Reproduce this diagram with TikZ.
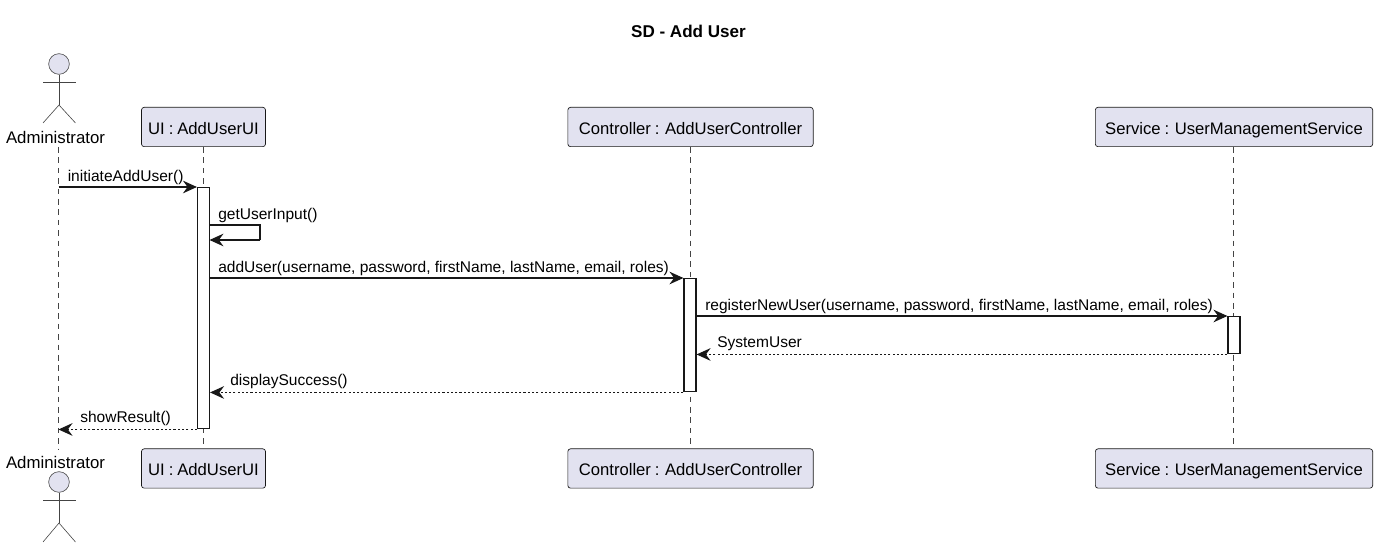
\documentclass[tikz,border=0pt]{standalone}
\usepackage{fontspec}
\setmainfont{Liberation Sans}
\newfontfamily\partfam[WordSpace=0.85]{Liberation Sans}
\usetikzlibrary{arrows.meta}
\definecolor{pfill}{HTML}{E2E2F0}
\definecolor{pline}{HTML}{181818}
\definecolor{lline}{HTML}{444444}
\tikzset{
  x=0.75pt,y=-0.75pt,
  part/.style={draw=pline,fill=pfill,rounded corners=2pt,line width=0.5pt,minimum height=29.5pt,inner sep=0pt,font=\partfam\fontsize{12.5pt}{14pt}\selectfont,text=black,text height=11pt,text depth=0pt},
  activ/.style={draw=pline,fill=white,line width=0.85pt,minimum width=9pt,inner sep=0pt,anchor=north},
  life/.style={draw=lline,line width=0.4pt,dash pattern=on 4.2pt off 3.6pt},
  msg/.style={draw=pline,line width=0.85pt,-{Stealth[length=10.5pt,width=9.5pt,inset=3.5pt,fill=pline]}},
  ret/.style={msg,dash pattern=on 1.6pt off 1.6pt},
  lab/.style={font=\fontsize{11.65pt}{13pt}\selectfont,text=black,inner sep=0pt,anchor=west},
  actlab/.style={font=\fontsize{12.6pt}{14pt}\selectfont,text=black,inner sep=0pt},
  body/.style={draw=lline,line width=0.45pt},
  head/.style={draw=lline,fill=pfill,line width=0.45pt,circle,minimum size=15.5pt,inner sep=0pt},
}
\begin{document}
\begin{tikzpicture}
\useasboundingbox (0,0) rectangle (1378,548);
\node[font=\bfseries\fontsize{12.8pt}{14pt}\selectfont,inner sep=0pt] (title) at (688.5,31) {SD - Add User};

% participant boxes
\node[part,minimum width=93pt] (uiT) at (203.5,127) {UI : AddUserUI};
\node[part,minimum width=184pt] (ctT) at (690.5,127) {Controller : AddUserController};
\node[part,minimum width=208pt] (svT) at (1234,127) {Service : UserManagementService};
\node[part,minimum width=93pt] (uiB) at (203.5,468.5) {UI : AddUserUI};
\node[part,minimum width=184pt] (ctB) at (690.5,468.5) {Controller : AddUserController};
\node[part,minimum width=208pt] (svB) at (1234,468.5) {Service : UserManagementService};

% actors
\node[actlab] (adT) at (55.5,138) {Administrator};
\node[actlab] (adB) at (55.5,462) {Administrator};
\coordinate (adTl) at (58.5,147);
\coordinate (adBl) at (58.5,450);
\foreach \n/\hy/\ay/\by/\ly in {hT/64/82/105/123,hB/482/500/523/542}{
  \node[head] (\n) at (59,\hy) {};
  \coordinate (\n s) at (59,\by);
  \draw[body] (\n.south) -- (\n s);
  \draw[body] (43,\ay) -- (75.5,\ay);
  \draw[body] (43,\ly) -- (\n s) -- (75.5,\ly);
}

% lifelines
\draw[life] (adTl) -- (adBl);
\draw[life] (uiT.south) -- (uiB.north);
\draw[life] (ctT.south -| 690,0) -- (ctB.north -| 690,0);
\draw[life] (svT.south -| 1233.5,0) -- (svB.north -| 1233.5,0);

% activations
\node[activ,minimum height=181pt] (aui) at (203.5,187) {};
\node[activ,minimum height=85pt] (act) at (690,278) {};
\node[activ,minimum height=28pt] (asv) at (1234,316) {};

% named ends
\coordinate (pA) at (adTl |- aui.north);
\coordinate (pB) at (adTl |- aui.south);
\coordinate (sel1) at (209.5,225);
\coordinate (sel2) at (260,225);
\coordinate (sel3) at (260,240);
\coordinate (sel4) at (209.5,240);

% messages
\draw[msg] (pA) -- (aui.north west);
\draw[msg,-] (sel1) -- (sel2) -- (sel3);
\draw[msg] (sel3) -- (sel4);
\draw[msg] (aui.east |- act.north) -- (act.north west);
\draw[msg] (act.east |- asv.north) -- (asv.north west);
\draw[ret] (asv.south west) -- (act.east |- asv.south);
\draw[ret] (act.south west) -- (aui.east |- act.south);
\draw[ret] (aui.south west) -- (pB);

% labels
\node[lab] (l1) at (67.5,177.5) {initiateAddUser()};
\node[lab] (l2) at (218,215.5) {getUserInput()};
\node[lab] (l3) at (218,268.5) {addUser(username, password, firstName, lastName, email, roles)};
\node[lab] (l4) at (705,306.5) {registerNewUser(username, password, firstName, lastName, email, roles)};
\node[lab] (l5) at (717,343.5) {SystemUser};
\node[lab] (l6) at (230,381.5) {displaySuccess()};
\node[lab] (l7) at (80,418.5) {showResult()};
\end{tikzpicture}
\end{document}
